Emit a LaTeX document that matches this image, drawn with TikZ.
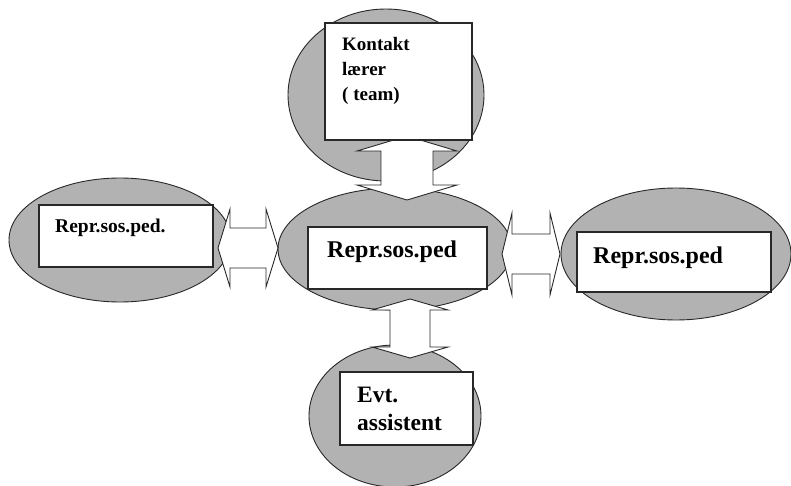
\documentclass[tikz,border=0pt]{standalone}
\usepackage{fontspec}
\setmainfont{Liberation Serif}
\usetikzlibrary{shapes.geometric}
\definecolor{ellgray}{RGB}{178,178,178}
\definecolor{inkline}{RGB}{40,40,40}
\tikzset{
  blob/.style={ellipse, draw=inkline, line width=0.9pt, fill=ellgray, inner sep=0pt},
  box/.style={rectangle, draw=inkline, line width=1.3pt, fill=white, inner sep=0pt},
  dblarrow/.style={draw=inkline, line width=0.9pt, fill=white, line join=miter},
  lbl/.style={inner sep=0pt, align=left, font=\bfseries}
}
\begin{document}
\begin{tikzpicture}[x=1pt,y=-1pt]
\useasboundingbox (0,0) rectangle (791,486);
\clip (0,0) rectangle (791,486);
\fill[white] (0,0) rectangle (791,486);
% ellipses
\node[blob, minimum width=196pt, minimum height=172pt] (topE) at (386,95) {};
\node[blob, minimum width=222pt, minimum height=124pt] (leftE) at (120,240) {};
\node[blob, minimum width=234pt, minimum height=122pt] (centE) at (395,249) {};
\node[blob, minimum width=230pt, minimum height=132pt] (rightE) at (676,254) {};
\node[blob, minimum width=172pt, minimum height=142pt] (botE) at (395,416) {};
% arrows (double headed block arrows)
% left: x 218..278, y 248, h 12, H 39, s 20
\coordinate (la) at (218,248);
\draw[dblarrow] (la) -- ++(12,-39) -- ++(0,19) -- ++(36,0) -- ++(0,-19) -- ++(12,39)
  -- ++(-12,39) -- ++(0,-19) -- ++(-36,0) -- ++(0,19) -- cycle;
% right: x 502..560, y 254, h 10, H 41, s 20
\coordinate (ra) at (502,254);
\draw[dblarrow] (ra) -- ++(10,-41) -- ++(0,21) -- ++(38,0) -- ++(0,-21) -- ++(10,41)
  -- ++(-10,41) -- ++(0,-21) -- ++(-38,0) -- ++(0,21) -- cycle;
% top: x 407, y 136..200, h 15, H 50, s 26
\coordinate (ta) at (407,136);
\draw[dblarrow] (ta) -- ++(50,15) -- ++(-24,0) -- ++(0,34) -- ++(24,0) -- ++(-50,15)
  -- ++(-50,-15) -- ++(24,0) -- ++(0,-34) -- ++(-24,0) -- cycle;
% bottom: x 410, y 299..358, h 11, H 38, s 20
\coordinate (ba) at (410,299);
\draw[dblarrow] (ba) -- ++(38,11) -- ++(-18,0) -- ++(0,37) -- ++(18,0) -- ++(-38,11)
  -- ++(-38,-11) -- ++(18,0) -- ++(0,-37) -- ++(-18,0) -- cycle;
% rectangles
\node[box, minimum width=147pt, minimum height=117pt] (topR) at (398.5,81.5) {};
\node[box, minimum width=174pt, minimum height=62pt] (leftR) at (126,236) {};
\node[box, minimum width=179pt, minimum height=62pt] (centR) at (397.5,258) {};
\node[box, minimum width=194pt, minimum height=60pt] (rightR) at (674,262) {};
\node[box, minimum width=133pt, minimum height=73pt] (botR) at (406.5,408.5) {};
% texts
\node[lbl, font=\bfseries\fontsize{19}{25}\selectfont, anchor=north west] (topT) at (342,37) {Kontakt\\lærer\\( team)};
\node[lbl, font=\bfseries\fontsize{19.5}{24}\selectfont, anchor=base west] (leftT) at (55,233) {Repr.sos.ped.};
\node[lbl, font=\bfseries\fontsize{24}{28}\selectfont, anchor=base west] (centT) at (327,257) {Repr.sos.ped};
\node[lbl, font=\bfseries\fontsize{24}{28}\selectfont, anchor=base west] (rightT) at (593,263) {Repr.sos.ped};
\node[lbl, font=\bfseries\fontsize{23.5}{28}\selectfont, anchor=north west] (botT) at (357,386.5) {Evt.\\assistent};
\end{tikzpicture}
\end{document}
